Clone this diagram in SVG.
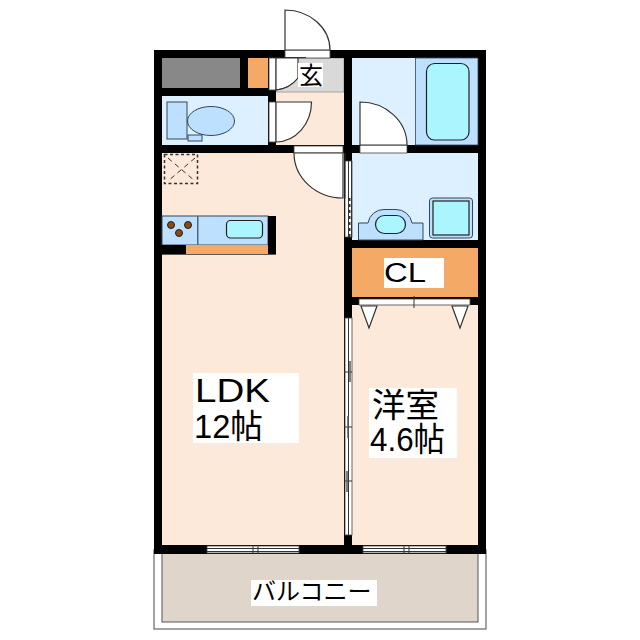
<svg xmlns="http://www.w3.org/2000/svg" width="640" height="640" viewBox="0 0 640 640">
<style>
.wall{fill:#000}
.peach{fill:#fde9d9}
.pale{fill:#ddf0ff}
.blue{fill:#bde0ff;stroke:#33475b;stroke-width:1}
.tub{fill:#aaf5ff;stroke:#222;stroke-width:1.2}
.door{fill:#fff;stroke:#333;stroke-width:1.2}
.frame{fill:#fff;stroke:#444;stroke-width:.8}
.thin{fill:none;stroke:#333;stroke-width:1}
.lab{fill:#fff}
text{font-family:"Liberation Sans","Noto Sans CJK JP",sans-serif;fill:#000}
</style>
<rect width="640" height="640" fill="#fff"/>
<g id="balcony">
<rect x="154" y="550" width="332" height="79" fill="#fff" stroke="#666" stroke-width="1.2"/>
<rect x="162" y="550" width="316" height="72" fill="#e0d5cb" stroke="#555" stroke-width="1"/>
<rect class="lab" x="251" y="580" width="126" height="26"/>
<text x="252" y="600" font-size="24">バルコニー</text>
</g>
<g id="floors">
<rect class="peach" x="162" y="153" width="182" height="392"/>
<rect class="peach" x="352" y="305" width="126" height="240"/>
<rect class="peach" x="276" y="92" width="68" height="53"/>
<rect x="276" y="58" width="68" height="34" fill="#d9d9d9" stroke="#777" stroke-width=".6"/>
<rect class="pale" x="162" y="96" width="106" height="49"/>
<rect class="pale" x="352" y="58" width="126" height="87"/>
<rect class="pale" x="352" y="153" width="126" height="87"/>
<rect x="162" y="58" width="78" height="30" fill="#888"/>
<rect x="248" y="58" width="20" height="30" fill="#f4a966"/>
<rect x="352" y="248" width="126" height="49" fill="#f4a966"/>
</g>
<g id="walls">
<rect class="wall" x="154" y="50" width="332" height="8"/>
<rect class="wall" x="154" y="50" width="8" height="504"/>
<rect class="wall" x="478" y="50" width="8" height="504"/>
<rect class="wall" x="154" y="545" width="332" height="9"/>
<rect class="wall" x="162" y="88" width="114" height="8"/>
<rect class="wall" x="240" y="58" width="8" height="30"/>
<rect class="wall" x="268" y="58" width="8" height="95"/>
<rect class="wall" x="162" y="145" width="190" height="8"/>
<rect class="wall" x="344" y="50" width="8" height="495"/>
<rect class="wall" x="344" y="145" width="142" height="8"/>
<rect class="wall" x="344" y="240" width="142" height="8"/>
<rect class="wall" x="344" y="297" width="142" height="8"/>
</g>
<g id="entrance">
<rect class="frame" x="285" y="50" width="45" height="8"/>
<path class="door" d="M285 50V10A45 40 0 0 1 330 50Z"/>
<path class="thin" d="M285 57.500H306"/>
<rect class="frame" x="269" y="58" width="7" height="32"/>
<path class="door" d="M276 58H298V78A32 32 0 0 1 276 90Z" stroke="none"/>
<path class="thin" d="M276 90A32 32 0 0 0 298 78"/>
<rect class="lab" x="298" y="63" width="25" height="24"/>
<text x="299" y="84" font-size="24">玄</text>
</g>
<g id="toilet">
<rect class="frame" x="269" y="102" width="7" height="40"/>
<path class="door" d="M276 102H311.500A36 40 0 0 1 276 142Z"/>
<ellipse class="blue" cx="211" cy="121" rx="23.500" ry="14.500"/>
<rect class="blue" x="167" y="102" width="20" height="37"/>
<rect class="blue" x="188" y="135" width="14" height="6"/>
</g>
<g id="ldk-door">
<rect class="frame" x="294" y="146" width="49" height="7"/>
<path class="door" d="M294 153H343V198A49 45 0 0 1 294 153Z"/>
</g>
<g id="sliding-top">
<rect class="frame" x="345" y="161" width="7" height="76"/>
<path class="thin" d="M348.500 161V237M351.500 161V237"/>
<path d="M349.500 198V237" fill="none" stroke="#333" stroke-width="2" stroke-dasharray="3 3"/>
<path d="M345 153V198" fill="none" stroke="#333" stroke-width="1"/>
</g>
<g id="kitchen">
<rect class="blue" x="162" y="216" width="106" height="29" stroke="none"/>
<rect x="268" y="216" width="8" height="38" fill="#000"/>
<rect x="162" y="245" width="24" height="9" fill="#000"/>
<rect x="186" y="245" width="82" height="9" fill="#f4a966"/>
<rect x="162" y="254" width="114" height=".8" fill="#333"/>
<rect x="197" y="216" width="1.500" height="29" fill="#4a6a80"/>
<circle cx="171" cy="225" r="3.500" fill="#8a4a10" stroke="#222"/>
<circle cx="188" cy="225" r="3.500" fill="#8a4a10" stroke="#222"/>
<circle cx="179" cy="233" r="3.500" fill="#8a4a10" stroke="#222"/>
<rect class="tub" x="226.500" y="220.500" width="36" height="17.500" rx="4"/>
<rect x="164.500" y="154.500" width="33" height="29" fill="none" stroke="#333" stroke-width="1.500" stroke-dasharray="3 2.500"/>
<path d="M168 158L195 181M195 158L168 181" fill="none" stroke="#333" stroke-width="1" stroke-dasharray="5 4"/>
</g>
<g id="bath">
<rect x="415.500" y="58" width="62.500" height="87" fill="#bde0ff" stroke="#33475b" stroke-width=".8"/>
<rect class="tub" x="426.500" y="63.500" width="42.500" height="76.500" rx="8"/>
<rect class="frame" x="360" y="145" width="47" height="8"/>
<path class="door" d="M360 145V102A47 43 0 0 1 407 145Z"/>
</g>
<g id="washroom">
<path class="blue" d="M358.500 240V223H368A16 16 0 0 1 384 209.500H396A16 16 0 0 1 412 223H423V240Z"/>
<rect class="tub" x="375.500" y="215.500" width="30" height="18" rx="9"/>
<rect class="blue" x="429.500" y="198" width="43" height="40" rx="3"/>
<rect class="tub" x="433" y="201" width="36" height="34"/>
</g>
<g id="closet">
<rect class="lab" x="384" y="258" width="60" height="30"/>
<text x="384" y="282" font-size="27" textLength="42" lengthAdjust="spacingAndGlyphs">CL</text>
<rect class="frame" x="359" y="299" width="111" height="6"/>
<path class="thin" d="M414 296V308"/>
<path class="door" d="M361 306H377L369 328Z"/>
<path class="door" d="M452 306H468L460 328Z"/>
</g>
<g id="sliding-bottom">
<rect class="frame" x="345" y="318" width="7" height="217"/>
<path class="thin" d="M348.500 318V535M344 372H352M344 427H352M344 481H352"/>
<path d="M350 361V382M348 416V438M347 471V492" fill="none" stroke="#555" stroke-width="1.500"/>
</g>
<g id="windows">
<rect class="frame" x="207" y="546" width="92" height="7"/>
<path class="thin" d="M207 548.500H299M207 551.500H299M253 545V554M258 545V554"/>
<rect class="frame" x="363" y="546" width="83" height="7"/>
<path class="thin" d="M363 548.500H446M363 551.500H446M404 545V554M409 545V554"/>
</g>
<g id="labels">
<rect class="lab" x="193" y="373" width="106" height="70"/>
<text x="195" y="402" font-size="33" textLength="75" lengthAdjust="spacingAndGlyphs">LDK</text>
<text x="194" y="438" font-size="33" textLength="69" lengthAdjust="spacingAndGlyphs">12帖</text>
<rect class="lab" x="369" y="388" width="88" height="70"/>
<text x="372" y="417" font-size="33" textLength="67" lengthAdjust="spacingAndGlyphs">洋室</text>
<text x="370" y="451" font-size="33" textLength="75" lengthAdjust="spacingAndGlyphs">4.6帖</text>
</g>
</svg>
